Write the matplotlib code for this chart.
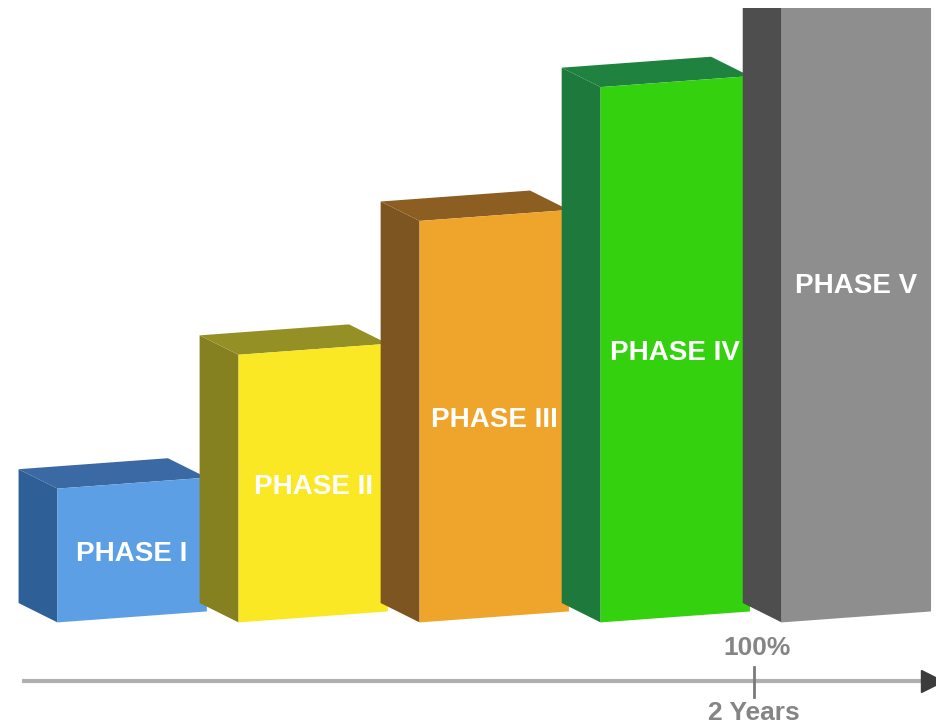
#!/usr/bin/env python3
"""Phase progress chart drawn as pseudo-3D blocks."""

import matplotlib
matplotlib.use("Agg")
import matplotlib.pyplot as plt
from matplotlib.patches import Polygon

plt.rcParams["font.family"] = ["Liberation Sans", "DejaVu Sans"]

phases = ["PHASE I", "PHASE II", "PHASE III", "PHASE IV", "PHASE V"]
progress = [20, 40, 60, 80, 100]
front_colors = ["#5c9fe4", "#f9e823", "#efa52c", "#34d10f", "#8e8e8e"]
side_colors = ["#2f5f97", "#858020", "#7d5520", "#1d7a3c", "#4e4e4e"]
top_colors = ["#3a69a3", "#959026", "#8c5e22", "#20823f", "#5a5a5a"]
axis_end_label = "100%"
axis_time_label = "2 Years"

# geometry (data units: x = bar index, y = percent)
W = 0.825         # front face width
SK = 0.82         # perspective skew of the front face
DX, DY = -0.215, 2.9   # depth offset of the back face


def block(ax, xc, v, front, side, top):
    x0, x1 = xc - W / 2, xc + W / 2
    fbl, fbr = (x0, -SK), (x1, SK)
    ftl, ftr = (x0, v - SK), (x1, v + SK)
    bbl = (x0 + DX, -SK + DY)
    btl, btr = (x0 + DX, v - SK + DY), (x1 + DX, v + SK + DY)
    ax.add_patch(Polygon([bbl, fbl, ftl, btl], closed=True, fc=side, ec="none"))
    ax.add_patch(Polygon([btl, btr, ftr, ftl], closed=True, fc=top, ec="none"))
    ax.add_patch(Polygon([fbl, fbr, ftr, ftl], closed=True, fc=front, ec="none"))


fig = plt.figure(figsize=(9.36, 7.24), dpi=100)
ax = fig.add_axes([0, 0, 1, 716 / 724])
ax.set_xlim(-0.73, 4.44)
ax.set_ylim(-16.0, 91.0)
ax.axis("off")

for i, (name, v) in enumerate(zip(phases, progress)):
    block(ax, i, v, front_colors[i], side_colors[i], top_colors[i])
    ax.text(i, v / 2 - 0.6, name, ha="center", va="center", color="white",
            fontsize=20, fontweight="bold", clip_on=False)

# time axis
ax.plot([-0.61, 4.40], [-9.6, -9.6], color="#b0b0b0", lw=3, solid_capstyle="butt", clip_on=False)
ax.plot([4.42], [-9.6], marker=">", color="#3c3c3c", markersize=16, clip_on=False)
tick_x = len(progress) - 2 + W / 2 + 0.02
ax.plot([tick_x, tick_x], [-7.5, -12.0], color="#7a7a7a", lw=2)
ax.text(tick_x + 0.02, -4.6, axis_end_label, ha="center", va="center", color="#858585",
        fontsize=19, fontweight="bold")
ax.text(tick_x, -14.3, axis_time_label, ha="center", va="center", color="#858585",
        fontsize=19, fontweight="bold")

fig.savefig("out.png", dpi=100)
